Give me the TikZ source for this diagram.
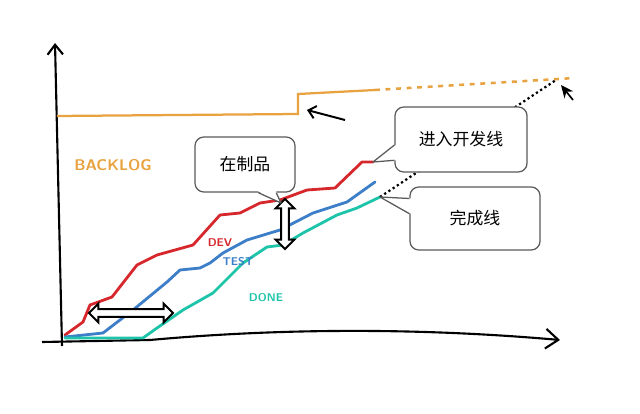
\documentclass[tikz,border=0pt]{standalone}
\usepackage{fontspec}
\newfontfamily\cjk{Noto Sans CJK SC}
\usetikzlibrary{arrows.meta,shapes.arrows}
\definecolor{backlogorange}{RGB}{232,162,64}
\definecolor{devred}{RGB}{214,40,44}
\definecolor{testblue}{RGB}{60,126,200}
\definecolor{doneteal}{RGB}{30,196,170}
\definecolor{boxgray}{RGB}{90,90,90}
\tikzset{
  bubble/.style={draw=boxgray, line width=0.9pt, fill=white, rounded corners=0.22cm,
    font=\cjk\fontsize{12}{14}\selectfont},
  bubbletip/.style={draw=boxgray, line width=0.9pt, line join=round},
  flowline/.style={line width=2pt, line join=round, line cap=round},
  hollowarrow/.style={double arrow, draw=black, line width=1.4pt, fill=white,
    inner sep=0.07cm, double arrow head extend=0.14cm},
  handlabel/.style={font=\sffamily\bfseries\fontsize{8}{9}\selectfont, inner sep=0pt}
}
\begin{document}
\begin{tikzpicture}[x=0.025cm,y=-0.025cm]
  \useasboundingbox (0,0) rectangle (640,414);

  % axes
  \draw[line width=1.5pt,-{Straight Barb[length=7pt,width=11pt]}] (62,346) -- (55,43);
  \draw[line width=1.5pt,-{Straight Barb[length=9pt,width=14pt]}]
    (42,342) -- (150,340) .. controls (260,330) and (400,326) .. (560,340);

  % backlog
  \draw[backlogorange, line width=1.6pt] (57,116) -- (298,114) -- (298,94) -- (375,90);
  \draw[backlogorange, line width=1.8pt, dash pattern=on 3.5pt off 4pt] (375,90) -- (575,78);
  \node[handlabel, text=backlogorange, font=\sffamily\bfseries\fontsize{11}{12}\selectfont]
    (backlog) at (113,165) {BACKLOG};
  \draw[line width=1.4pt,-{Straight Barb[length=5pt,width=9pt]}] (345,120) -- (307,110);

  % flow lines
  \coordinate (dev end) at (373,162);
  \coordinate (test end) at (375,182);
  \coordinate (done end) at (380,197);
  \draw[flowline, devred] (65,335) -- (83,322) -- (90,305) -- (112,297) -- (137,265)
    -- (157,255) -- (193,245) -- (220,215) -- (240,213) -- (260,203) -- (280,200)
    -- (307,190) -- (335,188) -- (362,162) -- (dev end);
  \draw[flowline, testblue] (65,337) -- (103,333) -- (133,310) -- (167,282) -- (180,270)
    -- (200,268) -- (210,263) -- (223,253) -- (247,240) -- (280,230) -- (313,213)
    -- (347,202) -- (test end);
  \draw[flowline, doneteal] (65,338) -- (143,338) -- (157,328) -- (183,310) -- (213,293)
    -- (243,263) -- (267,247) -- (283,245) -- (303,233) -- (337,215) -- (357,208)
    -- (done end);
  \node[handlabel, text=devred] (dev label) at (220,243) {DEV};
  \node[handlabel, text=testblue] (test label) at (238,262) {TEST};
  \node[handlabel, text=doneteal] (done label) at (266,298) {DONE};

  \node[hollowarrow, minimum height=2.1cm] (lead time) at (131,313) {};
  \node[hollowarrow, minimum height=1.25cm, rotate=90] (wip span) at (285,224) {};

  % projection
  \coordinate (finish) at (556,80);
  \draw[line width=1.6pt, dotted] (done end) -- (finish);
  \draw[line width=1.2pt,-{Stealth[length=9pt,width=8pt]}] (573,100) -- (561,85);

  % callouts
  \node[bubble, minimum width=2.5cm, minimum height=1.375cm] (wip) at (245,164.5) {在制品};
  \node[bubble, minimum width=3.3cm, minimum height=1.625cm] (dev) at (461,139.5) {进入开发线};
  \node[bubble, minimum width=3.25cm, minimum height=1.575cm] (done) at (475,218.5) {完成线};

  \coordinate (wip tip) at (281,203);
  \fill[white] ([xshift=0.33cm,yshift=1pt]wip.south) -- (wip tip) -- ([xshift=0.78cm,yshift=1pt]wip.south) -- cycle;
  \draw[bubbletip] ([xshift=0.33cm]wip.south) -- (wip tip) -- ([xshift=0.78cm]wip.south);

  \fill[white] ([xshift=1pt,yshift=-0.14cm]dev.west) -- (dev end) -- ([xshift=1pt,yshift=-0.52cm]dev.west) -- cycle;
  \draw[bubbletip] ([yshift=-0.14cm]dev.west) -- (dev end) -- ([yshift=-0.52cm]dev.west);

  \fill[white] ([xshift=1pt,yshift=0.5cm]done.west) -- (done end) -- ([xshift=1pt,yshift=0.12cm]done.west) -- cycle;
  \draw[bubbletip] ([yshift=0.5cm]done.west) -- (done end) -- ([yshift=0.12cm]done.west);
\end{tikzpicture}
\end{document}
